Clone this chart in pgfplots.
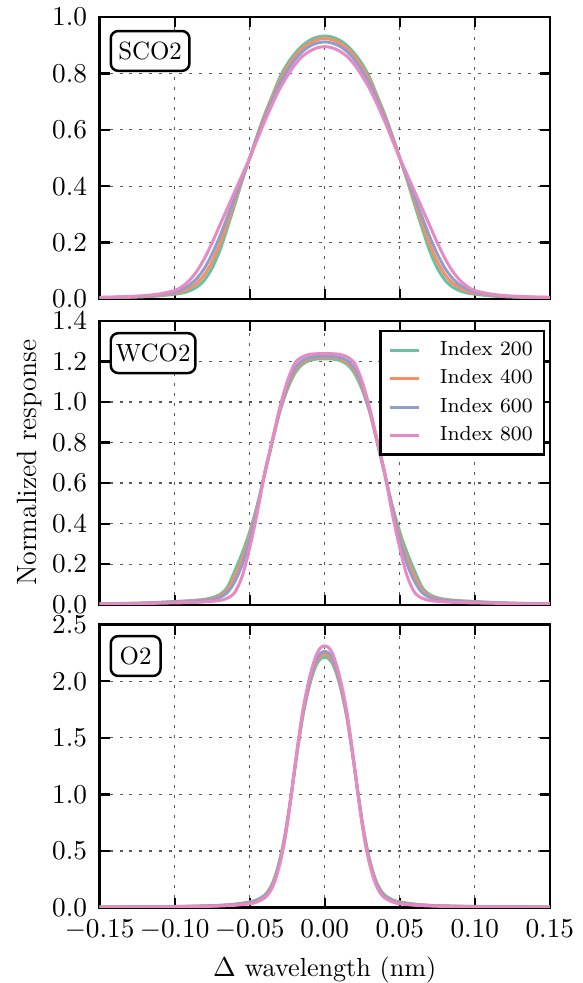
\documentclass[border=0pt]{standalone}
\usepackage{pgfplots}
\usepackage{pgfplotstable}
\pgfplotsset{compat=1.18}
\definecolor{cA}{HTML}{66C2A5}
\definecolor{cB}{HTML}{FC8D62}
\definecolor{cC}{HTML}{8DA0CB}
\definecolor{cD}{HTML}{E78AC3}

\pgfplotstableread{
x g o b p
-0.150 0.0040 0.0045 0.0050 0.0060
-0.140 0.0050 0.0055 0.0060 0.0070
-0.130 0.0060 0.0070 0.0080 0.0090
-0.120 0.0080 0.0090 0.0100 0.0120
-0.110 0.0110 0.0130 0.0150 0.0180
-0.100 0.017 0.020 0.024 0.030
-0.095 0.021 0.027 0.034 0.044
-0.090 0.029 0.039 0.050 0.067
-0.085 0.043 0.057 0.074 0.100
-0.080 0.068 0.087 0.110 0.145
-0.075 0.110 0.133 0.160 0.200
-0.070 0.170 0.193 0.220 0.260
-0.065 0.250 0.268 0.289 0.320
-0.060 0.333 0.345 0.359 0.380
-0.055 0.420 0.425 0.431 0.440
-0.050 0.500 0.500 0.500 0.500
-0.045 0.580 0.576 0.572 0.565
-0.040 0.655 0.649 0.641 0.630
-0.035 0.720 0.713 0.704 0.690
-0.030 0.785 0.775 0.763 0.745
-0.025 0.833 0.822 0.809 0.790
-0.020 0.870 0.860 0.848 0.830
-0.015 0.898 0.889 0.877 0.860
-0.010 0.918 0.908 0.897 0.879
-0.005 0.929 0.920 0.908 0.891
0.000 0.933 0.924 0.912 0.895
0.005 0.929 0.920 0.908 0.891
0.010 0.918 0.908 0.897 0.879
0.015 0.898 0.889 0.877 0.860
0.020 0.870 0.860 0.848 0.830
0.025 0.833 0.822 0.809 0.790
0.030 0.785 0.775 0.763 0.745
0.035 0.720 0.713 0.704 0.690
0.040 0.655 0.649 0.641 0.630
0.045 0.580 0.576 0.572 0.565
0.050 0.500 0.500 0.500 0.500
0.055 0.420 0.425 0.431 0.440
0.060 0.333 0.345 0.359 0.380
0.065 0.250 0.268 0.289 0.320
0.070 0.170 0.193 0.220 0.260
0.075 0.110 0.133 0.160 0.200
0.080 0.068 0.087 0.110 0.145
0.085 0.043 0.057 0.074 0.100
0.090 0.029 0.039 0.050 0.067
0.095 0.021 0.027 0.034 0.044
0.100 0.017 0.020 0.024 0.030
0.110 0.0110 0.0130 0.0150 0.0180
0.120 0.0080 0.0090 0.0100 0.0120
0.130 0.0060 0.0070 0.0080 0.0090
0.140 0.0050 0.0055 0.0060 0.0070
0.150 0.0040 0.0045 0.0050 0.0060
}\tabSCO

\pgfplotstableread{
x g o b p
-0.150 0.0050 0.0047 0.0045 0.0040
-0.140 0.0060 0.0056 0.0050 0.0045
-0.130 0.0070 0.0065 0.0060 0.0050
-0.120 0.0090 0.0080 0.0080 0.0060
-0.110 0.0120 0.0110 0.0100 0.0080
-0.100 0.016 0.014 0.013 0.009
-0.095 0.018 0.016 0.014 0.010
-0.090 0.020 0.018 0.016 0.011
-0.085 0.023 0.020 0.018 0.012
-0.080 0.027 0.024 0.021 0.014
-0.075 0.035 0.031 0.026 0.017
-0.070 0.050 0.043 0.036 0.021
-0.065 0.085 0.072 0.059 0.032
-0.060 0.165 0.139 0.113 0.060
-0.055 0.255 0.226 0.198 0.140
-0.050 0.360 0.340 0.320 0.280
-0.045 0.490 0.480 0.470 0.450
-0.040 0.645 0.646 0.648 0.650
-0.035 0.800 0.803 0.805 0.810
-0.030 0.950 0.955 0.960 0.970
-0.025 1.060 1.070 1.080 1.100
-0.020 1.140 1.153 1.165 1.190
-0.015 1.185 1.194 1.204 1.222
-0.010 1.205 1.213 1.220 1.235
-0.005 1.212 1.219 1.225 1.238
0.000 1.213 1.219 1.226 1.238
0.005 1.212 1.219 1.225 1.238
0.010 1.205 1.213 1.220 1.235
0.015 1.185 1.194 1.204 1.222
0.020 1.140 1.153 1.165 1.190
0.025 1.060 1.070 1.080 1.100
0.030 0.950 0.955 0.960 0.970
0.035 0.800 0.803 0.805 0.810
0.040 0.645 0.646 0.648 0.650
0.045 0.490 0.480 0.470 0.450
0.050 0.360 0.340 0.320 0.280
0.055 0.255 0.226 0.198 0.140
0.060 0.165 0.139 0.113 0.060
0.065 0.085 0.072 0.059 0.032
0.070 0.050 0.043 0.036 0.021
0.075 0.035 0.031 0.026 0.017
0.080 0.027 0.024 0.021 0.014
0.085 0.023 0.020 0.018 0.012
0.090 0.020 0.018 0.016 0.011
0.095 0.018 0.016 0.014 0.010
0.100 0.016 0.014 0.013 0.009
0.110 0.0120 0.0110 0.0100 0.0080
0.120 0.0090 0.0080 0.0080 0.0060
0.130 0.0070 0.0065 0.0060 0.0050
0.140 0.0060 0.0056 0.0050 0.0045
0.150 0.0050 0.0047 0.0045 0.0040
}\tabWCO

\pgfplotstableread{
x g o b p
-0.150 0.005 0.0045 0.004 0.003
-0.120 0.007 0.0065 0.006 0.005
-0.100 0.010 0.009 0.0085 0.007
-0.090 0.012 0.011 0.010 0.008
-0.080 0.015 0.014 0.0125 0.010
-0.070 0.020 0.0185 0.017 0.014
-0.060 0.030 0.028 0.025 0.020
-0.050 0.050 0.046 0.042 0.033
-0.045 0.070 0.065 0.060 0.050
-0.040 0.110 0.104 0.098 0.085
-0.0375 0.150 0.143 0.135 0.120
-0.035 0.210 0.201 0.193 0.175
-0.0325 0.300 0.290 0.280 0.260
-0.030 0.420 0.410 0.400 0.380
-0.0275 0.570 0.560 0.550 0.530
-0.025 0.760 0.753 0.745 0.730
-0.0225 0.980 0.978 0.975 0.970
-0.020 1.220 1.223 1.225 1.230
-0.0175 1.450 1.458 1.465 1.480
-0.015 1.660 1.673 1.685 1.710
-0.0125 1.830 1.845 1.860 1.890
-0.010 1.970 1.988 2.005 2.040
-0.0075 2.080 2.100 2.120 2.160
-0.005 2.160 2.183 2.205 2.250
-0.0025 2.200 2.225 2.250 2.300
0.000 2.215 2.239 2.264 2.312
0.0025 2.200 2.225 2.250 2.300
0.005 2.160 2.183 2.205 2.250
0.0075 2.080 2.100 2.120 2.160
0.010 1.970 1.988 2.005 2.040
0.0125 1.830 1.845 1.860 1.890
0.015 1.660 1.673 1.685 1.710
0.0175 1.450 1.458 1.465 1.480
0.020 1.220 1.223 1.225 1.230
0.0225 0.980 0.978 0.975 0.970
0.025 0.760 0.753 0.745 0.730
0.0275 0.570 0.560 0.550 0.530
0.030 0.420 0.410 0.400 0.380
0.0325 0.300 0.290 0.280 0.260
0.035 0.210 0.201 0.193 0.175
0.0375 0.150 0.143 0.135 0.120
0.040 0.110 0.104 0.098 0.085
0.045 0.070 0.065 0.060 0.050
0.050 0.050 0.046 0.042 0.033
0.060 0.030 0.028 0.025 0.020
0.070 0.020 0.0185 0.017 0.014
0.080 0.015 0.014 0.0125 0.010
0.090 0.012 0.011 0.010 0.008
0.100 0.010 0.009 0.0085 0.007
0.120 0.007 0.0065 0.006 0.005
0.150 0.005 0.0045 0.004 0.003
}\tabOO

\tikzset{
  boxlabel/.style={draw, line width=1pt, rounded corners=3pt, fill=white, anchor=north west,
    inner xsep=0pt, inner ysep=0pt, minimum height=16pt, align=center,
    font=\fontsize{10}{12}\selectfont},
}
\pgfplotsset{
  panel/.style={
    scale only axis, width=180.8pt,
    xmin=-0.15, xmax=0.15, ymin=0,
    xtick={-0.15,-0.10,-0.05,0,0.05,0.10,0.15},
    tick align=inside, xtick pos=both, ytick pos=both,
    major tick length=4pt,
    every tick/.style={black, line width=0.9pt},
    axis line style={line width=1pt},
    grid=major,
    major grid style={black!65, line width=0.5pt, dash pattern=on 1.2pt off 2.8pt},
    tick label style={font=\fontsize{10.5}{12}\selectfont},
    x tick label style={/pgf/number format/fixed, /pgf/number format/fixed zerofill, /pgf/number format/precision=2, yshift=-1.5pt},
    y tick label style={/pgf/number format/fixed, /pgf/number format/fixed zerofill, /pgf/number format/precision=1, xshift=-1.5pt},
    every axis plot/.append style={line width=1.2pt, smooth, tension=0.5, no markers},
    legend image code/.code={\draw[#1, line width=1.2pt] (0pt,0pt) -- (12pt,0pt);},
  },
}

\begin{document}
\begin{tikzpicture}
\path (-40pt,-29.6pt) rectangle (192.8pt,364.4pt);

% Panel 1: SCO2
\begin{axis}[panel, at={(0pt,244.4pt)}, anchor=south west, height=113.2pt,
  ymax=1.0, ytick={0,0.2,0.4,0.6,0.8,1.0}, xticklabels={}]
\addplot[cA] table[x=x,y=g]{\tabSCO};
\addplot[cB] table[x=x,y=o]{\tabSCO};
\addplot[cC] table[x=x,y=b]{\tabSCO};
\addplot[cD] table[x=x,y=p]{\tabSCO};
\node[boxlabel, minimum width=31.6pt] at (rel axis cs:0.022,0.955) {SCO2};
\end{axis}

% Panel 2: WCO2
\begin{axis}[panel, at={(0pt,121.6pt)}, anchor=south west, height=114pt,
  ymax=1.4, ytick={0,0.2,0.4,0.6,0.8,1.0,1.2,1.4}, xticklabels={},
  ylabel={Normalized response},
  ylabel style={at={(rel axis cs:-0.128,0.5)}, anchor=south, inner sep=0pt, font=\fontsize{11.2}{13}\selectfont},
  legend style={at={(rel axis cs:0.99,0.968)}, anchor=north east, draw=black, line width=1pt,
    font=\fontsize{8.2}{9.5}\selectfont, inner xsep=3pt, inner ysep=2.5pt,
    nodes={inner sep=1.6pt}, row sep=1pt,
    /tikz/every odd column/.append style={column sep=6pt}},
  legend cell align=left]
\addplot[cA] table[x=x,y=g]{\tabWCO};
\addlegendentry{Index 200}
\addplot[cB] table[x=x,y=o]{\tabWCO};
\addlegendentry{Index 400}
\addplot[cC] table[x=x,y=b]{\tabWCO};
\addlegendentry{Index 600}
\addplot[cD] table[x=x,y=p]{\tabWCO};
\addlegendentry{Index 800}
\node[boxlabel, minimum width=34pt] at (rel axis cs:0.022,0.961) {WCO2};
\end{axis}

% Panel 3: O2
\begin{axis}[panel, at={(0pt,0pt)}, anchor=south west, height=113.6pt,
  ymax=2.5, ytick={0,0.5,1.0,1.5,2.0,2.5},
  xlabel={$\Delta$ wavelength (nm)},
  xlabel style={at={(rel axis cs:0.5,0)}, anchor=north, inner sep=0pt, yshift=-19.6pt, font=\fontsize{10.5}{12}\selectfont}]
\addplot[cA] table[x=x,y=g]{\tabOO};
\addplot[cB] table[x=x,y=o]{\tabOO};
\addplot[cC] table[x=x,y=b]{\tabOO};
\addplot[cD] table[x=x,y=p]{\tabOO};
\node[boxlabel, minimum width=20pt] at (rel axis cs:0.022,0.964) {O2};
\end{axis}
\end{tikzpicture}
\end{document}
